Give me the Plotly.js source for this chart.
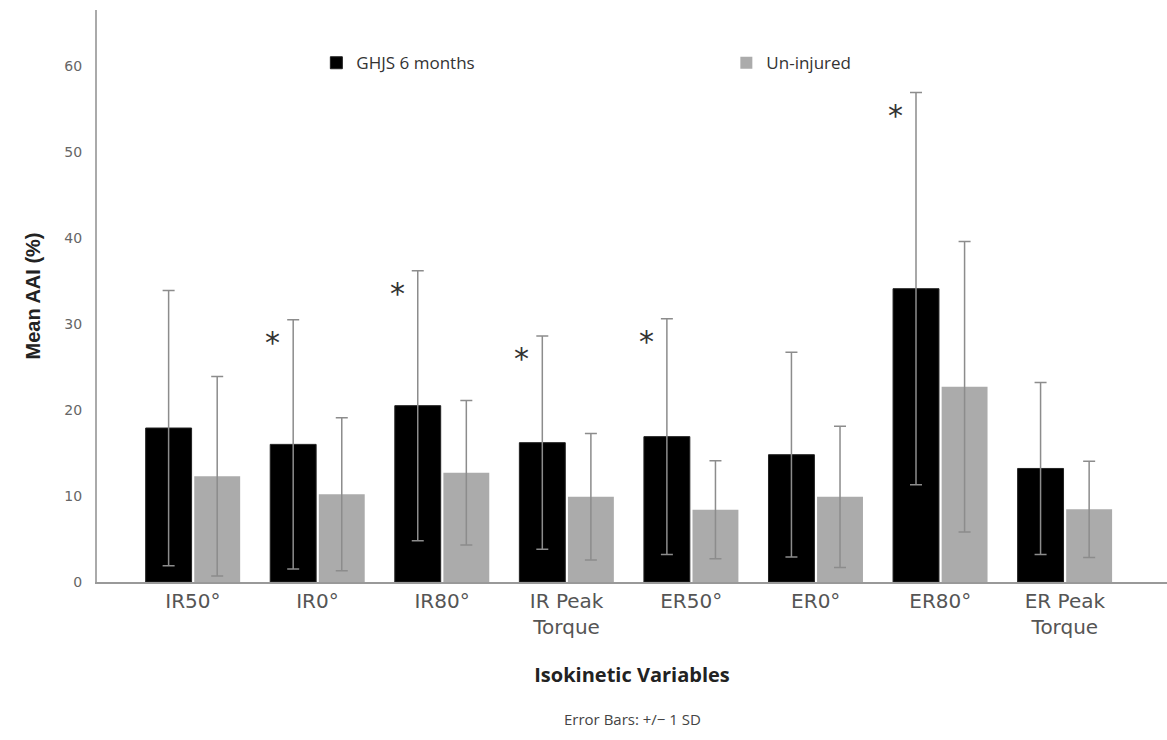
<!DOCTYPE html>
<html>
<head>
<meta charset="utf-8">
<script src="https://cdn.plot.ly/plotly-3.0.1.min.js"></script>
<style>html,body{margin:0;padding:0;background:#fff;}#chart{width:1167px;height:740px;}</style>
</head>
<body>
<div id="chart"></div>
<script>
const categories = ["IR50°", "IR0°", "IR80°", "IR Peak<br>Torque", "ER50°", "ER0°", "ER80°", "ER Peak<br>Torque"];
const ghjsMean = [17.9, 16.0, 20.5, 16.2, 16.9, 14.8, 34.1, 13.2];
const ghjsSD   = [16.0, 14.5, 15.7, 12.4, 13.7, 11.9, 22.8, 10.0];
const uninjMean = [12.3, 10.2, 12.7, 9.9, 8.4, 9.9, 22.7, 8.45];
const uninjSD   = [11.6, 8.9, 8.4, 7.35, 5.7, 8.2, 16.9, 5.6];
const significant = [false, true, true, true, true, false, true, false];
const seriesNames = ["GHJS 6 months", "Un-injured"];

const errStyle = {type: 'data', visible: true, color: '#8c8c8c', thickness: 1.5, width: 6};

const traces = [
  {type: 'bar', name: seriesNames[0], x: categories, y: ghjsMean,
   marker: {color: '#000000', line: {color: '#222', width: 1}},
   error_y: Object.assign({array: ghjsSD}, errStyle)},
  {type: 'bar', name: seriesNames[1], x: categories, y: uninjMean,
   marker: {color: '#ababab'},
   error_y: Object.assign({array: uninjSD}, errStyle)}
];

const annotations = [];
significant.forEach((s, i) => {
  if (s) {
    annotations.push({x: i - 0.36, y: ghjsMean[i] + ghjsSD[i] - 2.2, xref: 'x', yref: 'y',
      text: '*', showarrow: false, font: {family: 'DejaVu Sans, sans-serif', size: 30, color: '#333'},
      yanchor: 'middle', xanchor: 'center', yshift: -4});
  }
});
annotations.push({xref: 'paper', yref: 'paper', x: 0.5, y: 0, yshift: -137, xanchor: 'center', yanchor: 'middle',
  text: 'Error Bars: +/\u2212 1 SD', showarrow: false, font: {family: 'Open Sans, sans-serif', size: 15, color: '#444'}});

const layout = {
  width: 1167, height: 740,
  margin: {l: 97, r: 0, t: 10, b: 158},
  paper_bgcolor: '#fff', plot_bgcolor: '#fff',
  barmode: 'group', bargap: 0.22, bargroupgap: 0.055,
  showlegend: true,
  legend: {orientation: 'h', x: 0.205, y: 0.907, xanchor: 'left', yanchor: 'middle',
    entrywidth: 365, entrywidthmode: 'pixels', traceorder: 'normal',
    font: {family: 'Open Sans, sans-serif', size: 17, color: '#333'}, bgcolor: 'rgba(0,0,0,0)'},
  xaxis: {type: 'category', range: [-0.77, 7.82], showline: true, linecolor: '#999', linewidth: 1.5,
    ticks: '', showgrid: false, zeroline: false,
    tickfont: {family: 'DejaVu Sans, sans-serif', size: 20, color: '#555'},
    title: {text: 'Isokinetic Variables', standoff: 30,
      font: {family: 'Open Sans, sans-serif', size: 20, color: '#222', weight: 'bold'}}},
  yaxis: {range: [0, 66.5], tickvals: [0, 10, 20, 30, 40, 50, 60], showline: true, linecolor: '#aaa', linewidth: 2,
    ticks: '', showgrid: false, zeroline: false, ticklabelstandoff: 10,
    tickfont: {family: 'DejaVu Sans, sans-serif', size: 14, color: '#666'},
    title: {text: 'Mean AAI (%)', standoff: 18,
      font: {family: 'Liberation Sans, Arial, sans-serif', size: 20, color: '#222', weight: 'bold'}}},
  annotations: annotations
};

Plotly.newPlot('chart', traces, layout, {displayModeBar: false, staticPlot: true});
</script>
</body>
</html>
